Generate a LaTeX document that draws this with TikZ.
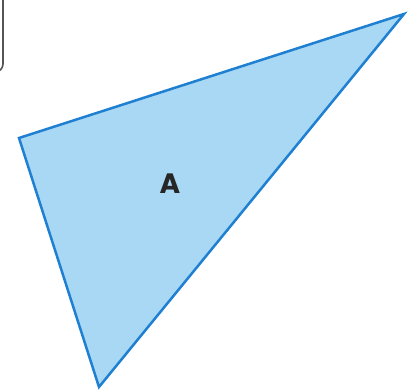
\documentclass[tikz,border=0pt]{standalone}
\usepackage{fontspec}
\setmainfont{Poppins}
\definecolor{trifill}{HTML}{A8D8F4}
\definecolor{triline}{HTML}{1F80D2}
\definecolor{boxline}{HTML}{555555}
\begin{document}
\begin{tikzpicture}[x=1pt,y=1pt,
  tri/.style={fill=trifill,draw=triline,line width=2.5pt,line join=miter},
  lbl/.style={font=\fontsize{28}{28}\selectfont\bfseries,text=black!85}]
\useasboundingbox (0,0) rectangle (408,390);
\coordinate (L) at (19,252);
\coordinate (R) at (404,376);
\coordinate (B) at (99,3);
\filldraw[tri] (L) -- (R) -- (B) -- cycle;
\node[lbl] (A) at (170,206) {A};
\draw[boxline,line width=1.6pt] (3,392) -- (3,326) arc[start angle=0,end angle=-90,radius=8];
\end{tikzpicture}
\end{document}
